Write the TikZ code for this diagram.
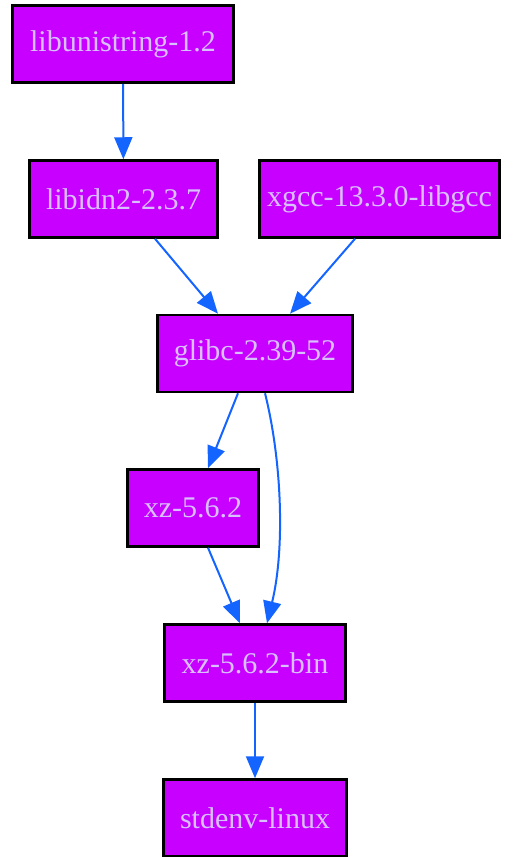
\documentclass[tikz,border=0pt]{standalone}
\usepackage{fontspec}
\setmainfont{Liberation Serif}
\usepackage{xcolor}
\usetikzlibrary{arrows.meta}

\definecolor{pkgfill}{HTML}{C800FF}
\definecolor{pkgtext}{HTML}{D8C0FF}
\definecolor{deplink}{HTML}{1464FF}

\begin{document}
\begin{tikzpicture}[x = 0.5pt, y = -0.5pt,
    pkg/.style = {rectangle, draw = black, fill = pkgfill, line width = 1.25pt, text = pkgtext,
                  font = \fontsize{15pt}{18pt}\selectfont, minimum height = 38.5pt, inner sep = 0pt},
    dep/.style = {draw = deplink, line width = 1pt, -{Triangle[length = 11pt, width = 9pt]}}]
      \useasboundingbox (0, 0) rectangle (513, 857);
      \node [pkg, minimum width = 110.5pt] (libunistring) at (123, 44) {libunistring-1.2};
      \node [pkg, minimum width = 94pt] (libidn) at (123.5, 199) {libidn2-2.3.7};
      \node [pkg, minimum width = 120pt] (xgcc) at (379.5, 199) {xgcc-13.3.0-libgcc};
      \node [pkg, minimum width = 97.5pt] (glibc) at (255, 353.5) {glibc-2.39-52};
      \node [pkg, minimum width = 65.5pt] (xz) at (193, 508) {xz-5.6.2};
      \node [pkg, minimum width = 90.5pt] (xzbin) at (255, 663) {xz-5.6.2-bin};
      \node [pkg, minimum width = 91.5pt] (stdenv) at (255, 818) {stdenv-linux};
      \draw [dep] (libunistring) -- (libidn);
      \draw [dep] ([xshift = 15.75pt] libidn.south) -- ([xshift = -18.5pt] glibc.north);
      \draw [dep] ([xshift = -12.25pt] xgcc.south) -- ([xshift = 17.5pt] glibc.north);
      \draw [dep] ([xshift = -8.5pt] glibc.south) -- ([xshift = 7.5pt] xz.north);
      \draw [dep] ([xshift = 5pt] glibc.south) .. controls +(8.5pt, -34pt) and +(9pt, 37pt) .. ([xshift = 6pt] xzbin.north);
      \draw [dep] ([xshift = 7.5pt] xz.south) -- ([xshift = -7.5pt] xzbin.north);
      \draw [dep] (xzbin) -- (stdenv);
    \end{tikzpicture}
\end{document}
